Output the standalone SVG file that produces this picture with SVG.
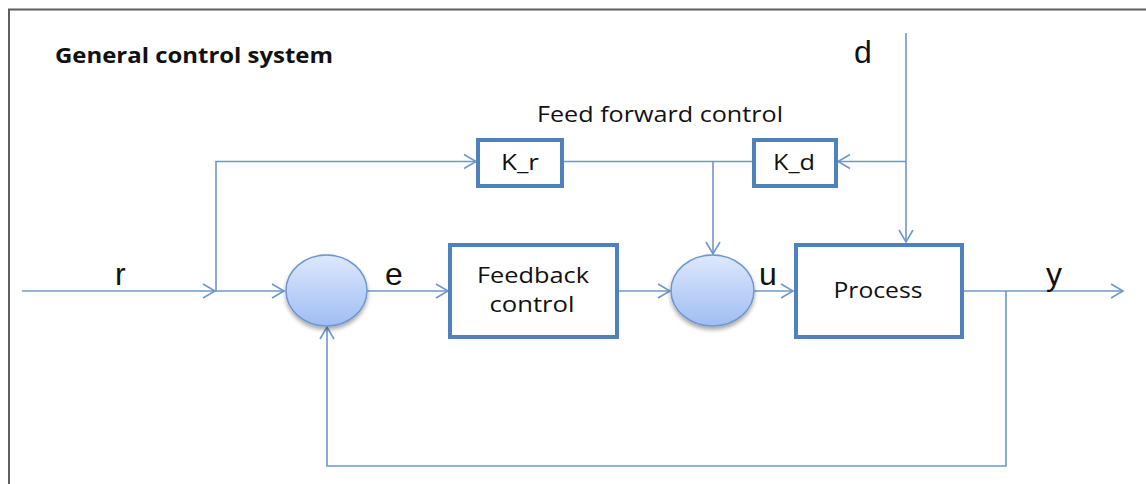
<svg xmlns="http://www.w3.org/2000/svg" width="1146" height="484" viewBox="0 0 1146 484">
  <defs>
    <style>
      .frame { fill: none; stroke: #5f5f5f; stroke-width: 2; }
      .wire { fill: none; stroke: #6f97cc; stroke-width: 1.6; }
      .block { fill: #ffffff; stroke: #4f81bd; stroke-width: 4; }
      .sum { fill: url(#sumFill); stroke: #6f97cc; stroke-width: 1.5; filter: url(#softShadow); }
      .calibri { font-family: "Open Sans", "Liberation Sans", sans-serif; fill: #111; }
      .signal { font-family: "Liberation Sans", Arial, sans-serif; font-size: 32px; fill: #111; }
    </style>
    <linearGradient id="sumFill" x1="0" y1="0" x2="0" y2="1">
      <stop offset="0" stop-color="#dde8fd"/>
      <stop offset="1" stop-color="#a0bdf3"/>
    </linearGradient>
    <filter id="softShadow" x="-20%" y="-20%" width="140%" height="150%">
      <feGaussianBlur in="SourceAlpha" stdDeviation="2"/>
      <feOffset dy="2.5"/>
      <feComponentTransfer><feFuncA type="linear" slope="0.35"/></feComponentTransfer>
      <feMerge><feMergeNode/><feMergeNode in="SourceGraphic"/></feMerge>
    </filter>
    <marker id="arrow" markerUnits="userSpaceOnUse" markerWidth="16" markerHeight="18" viewBox="-14 -9 16 18" refX="0" refY="0" orient="auto">
      <path d="M-12,-7 L0,0 L-12,7" fill="none" stroke="#6f97cc" stroke-width="1.6"/>
    </marker>
  </defs>

  <rect width="1146" height="484" fill="#ffffff"/>

  <!-- page frame -->
  <path class="frame" d="M9,484 V9.5 H1146"/>

  <text class="calibri" x="55" y="63" font-size="21" font-weight="bold" textLength="278" lengthAdjust="spacingAndGlyphs">General control system</text>
  <text class="calibri" x="537" y="122" font-size="21" textLength="246" lengthAdjust="spacingAndGlyphs">Feed forward control</text>

  <!-- signal lines -->
  <g id="connectors">
    <path class="wire" d="M22,291 H215" marker-end="url(#arrow)"/>
    <path class="wire" d="M215,291 H284" marker-end="url(#arrow)"/>
    <path class="wire" d="M216,291 V161.5 H476" marker-end="url(#arrow)"/>
    <path class="wire" d="M367,291 H448" marker-end="url(#arrow)"/>
    <path class="wire" d="M618,291 H670" marker-end="url(#arrow)"/>
    <path class="wire" d="M563,161.5 H752"/>
    <path class="wire" d="M713,161.5 V254" marker-end="url(#arrow)"/>
    <path class="wire" d="M906,33 V242" marker-end="url(#arrow)"/>
    <path class="wire" d="M906,161.5 H838" marker-end="url(#arrow)"/>
    <path class="wire" d="M754,291 H793" marker-end="url(#arrow)"/>
    <path class="wire" d="M963,291 H1123" marker-end="url(#arrow)"/>
    <path class="wire" d="M1006,291 V466 H327 V327" marker-end="url(#arrow)"/>
  </g>

  <!-- signal names -->
  <text class="signal" x="115" y="285">r</text>
  <text class="signal" x="385" y="285">e</text>
  <text class="signal" x="759" y="285">u</text>
  <text class="signal" x="1046" y="285">y</text>
  <text class="signal" x="854" y="63">d</text>

  <g id="sum-error">
    <ellipse class="sum" cx="326.5" cy="290.5" rx="40.5" ry="35.5"/>
  </g>

  <g id="feedback-control">
    <rect class="block" x="450" y="245" width="167" height="92"/>
    <text class="calibri" x="533" y="283" font-size="22" text-anchor="middle" textLength="112" lengthAdjust="spacingAndGlyphs">Feedback</text>
    <text class="calibri" x="532" y="312" font-size="22" text-anchor="middle" textLength="85" lengthAdjust="spacingAndGlyphs">control</text>
  </g>

  <g id="sum-control">
    <ellipse class="sum" cx="712.5" cy="290.5" rx="41.5" ry="35.5"/>
  </g>

  <g id="process">
    <rect class="block" x="796" y="245" width="166" height="92"/>
    <text class="calibri" x="878" y="298" font-size="22" text-anchor="middle" textLength="89" lengthAdjust="spacingAndGlyphs">Process</text>
  </g>

  <g id="gain-r">
    <rect class="block" x="478" y="140" width="84" height="46"/>
    <text class="calibri" x="520" y="170" font-size="22" text-anchor="middle" textLength="38" lengthAdjust="spacingAndGlyphs">K_r</text>
  </g>

  <g id="gain-d">
    <rect class="block" x="754" y="140" width="82" height="46"/>
    <text class="calibri" x="794" y="170" font-size="22" text-anchor="middle" textLength="42" lengthAdjust="spacingAndGlyphs">K_d</text>
  </g>
</svg>
